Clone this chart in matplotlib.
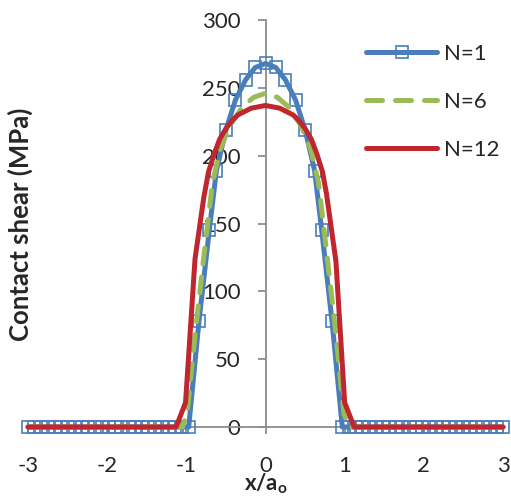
import matplotlib
matplotlib.use("Agg")
import matplotlib.pyplot as plt

plt.rcParams["font.family"] = ["Lato", "DejaVu Sans"]
plt.rcParams["axes.unicode_minus"] = False

# N=1: contact shear with markers (outer zero region + contact zone)
x_n1 = [-3.00, -2.92, -2.83, -2.75, -2.66, -2.58, -2.49, -2.41, -2.32, -2.24,
        -2.15, -2.07, -1.98, -1.90, -1.82, -1.73, -1.65, -1.56, -1.48, -1.39,
        -1.31, -1.22, -1.14, -1.05,
        -0.97, -0.84, -0.71, -0.62, -0.50, -0.38, -0.25, -0.13, 0.00,
        0.13, 0.25, 0.38, 0.50, 0.62, 0.71, 0.84, 0.97,
        1.05, 1.14, 1.22, 1.31, 1.39, 1.48, 1.56, 1.65, 1.73, 1.82,
        1.90, 1.98, 2.07, 2.15, 2.24, 2.32, 2.41, 2.49, 2.58, 2.66,
        2.75, 2.83, 2.92, 3.00]
y_n1 = [0] * 24 + [0, 78, 145, 189, 219, 241, 256, 265, 268,
                   265, 256, 241, 219, 189, 145, 78, 0] + [0] * 24

# N=6
x_n6 = [-3.00, -1.05, -0.99, -0.89, -0.78, -0.67, -0.57, -0.45, -0.29, -0.15, 0.00,
        0.15, 0.29, 0.45, 0.57, 0.67, 0.78, 0.89, 0.99, 1.05, 3.00]
y_n6 = [0, 0, 10, 68, 125, 180, 205, 222, 236, 243, 246,
        243, 236, 222, 205, 180, 125, 68, 10, 0, 0]

# N=12
x_n12 = [-3.00, -1.13, -1.01, -0.89, -0.78, -0.72, -0.65, -0.58, -0.50, -0.42,
         -0.35, -0.18, 0.00, 0.18, 0.35, 0.42, 0.50, 0.58, 0.65, 0.72, 0.77,
         0.89, 1.00, 1.12, 3.00]
y_n12 = [0, 0, 18, 124, 169, 188, 201, 212, 220, 226,
         230, 235, 237, 235, 230, 226, 220, 212, 201, 188, 172,
         122, 18, 0, 0]

x_ticks = [-3, -2, -1, 0, 1, 2, 3]
y_ticks = [0, 50, 100, 150, 200, 250, 300]

blue = "#4A7EBB"
green = "#9BBB59"
red = "#C0262D"
axis_gray = "#8C8C8C"
text_col = "#262626"

fig = plt.figure(figsize=(5.11, 4.96), dpi=100)
ax = fig.add_axes([28 / 511, 69 / 496, 475 / 511, 407 / 496])

ax.plot(x_n1, y_n1, color=blue, lw=3.6, marker="s", ms=8.5, mfc="none",
        mec=blue, mew=1.2, label="N=1", clip_on=False, zorder=3,
        solid_capstyle="round", solid_joinstyle="round")
ax.plot(x_n6, y_n6, color=green, lw=3.6, dashes=(3.2, 2.6),
        dash_capstyle="round", label="N=6", clip_on=False, zorder=4)
ax.plot(x_n12, y_n12, color=red, lw=3.6, label="N=12", clip_on=False,
        zorder=5, solid_capstyle="round", solid_joinstyle="round")

ax.set_xlim(-3, 3)
ax.set_ylim(0, 300)
ax.set_xticks(x_ticks)
ax.set_yticks(y_ticks)

for side in ["top", "right"]:
    ax.spines[side].set_visible(False)
ax.spines["left"].set_position(("data", 0))
for side in ["left", "bottom"]:
    ax.spines[side].set_color(axis_gray)
    ax.spines[side].set_linewidth(1.3)

ax.tick_params(axis="x", direction="out", length=5, width=1.3, color=axis_gray,
               labelsize=16, labelcolor=text_col, pad=16)
ax.tick_params(axis="y", direction="out", length=6, width=1.3, color=axis_gray,
               labelsize=16, labelcolor=text_col, pad=12)

ax.set_xlabel(r"x/a$_\mathregular{o}$", fontsize=16, fontweight="bold",
              color=text_col)
ax.xaxis.set_label_coords(0.5, -0.108)
fig.text(20 / 511, 1 - 224 / 496, "Contact shear (MPa)", rotation=90,
         ha="center", va="center", fontsize=18.5, fontweight="bold",
         color=text_col)

leg = ax.legend(loc="upper left", bbox_to_anchor=(366 / 511, 1 - 44 / 496),
                bbox_transform=fig.transFigure, frameon=False, fontsize=16,
                handlelength=3.2, handletextpad=0.3, labelspacing=1.25,
                borderpad=0, borderaxespad=0)
for t in leg.get_texts():
    t.set_color(text_col)

fig.savefig("out.png", dpi=100)
